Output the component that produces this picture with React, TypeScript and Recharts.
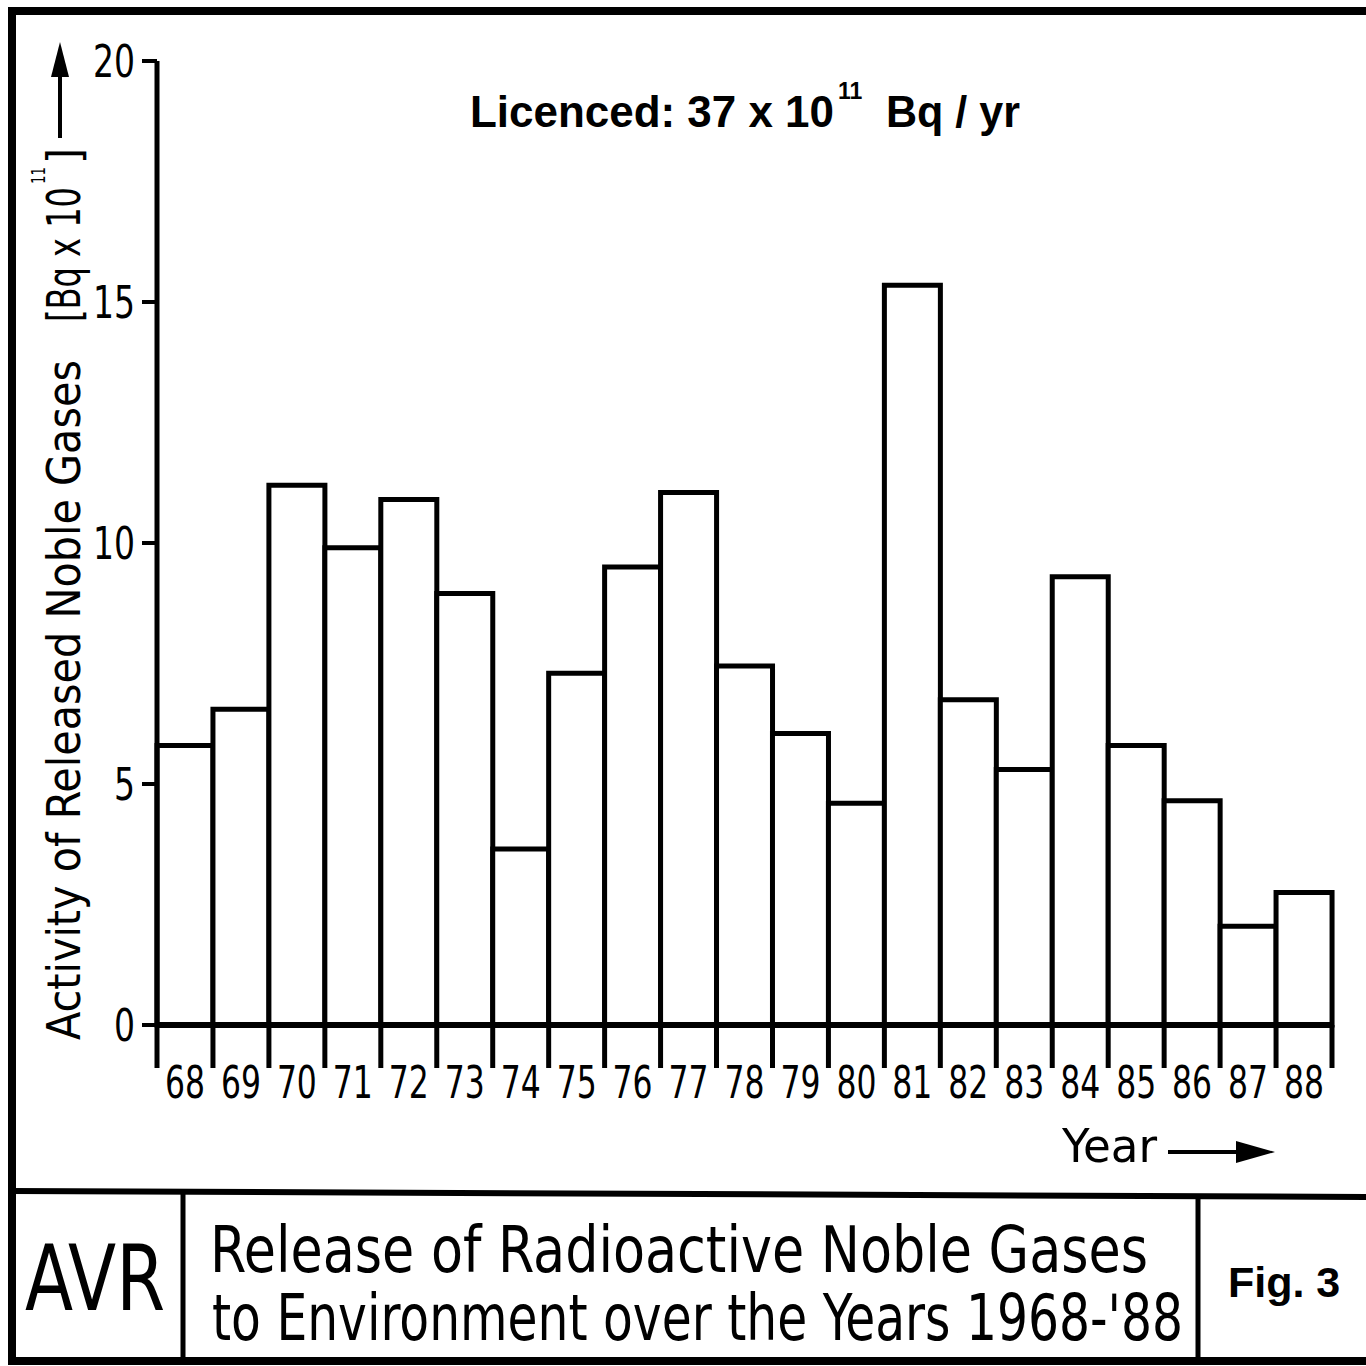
import React from 'react';
import { BarChart, Bar, XAxis, YAxis } from 'recharts';

// AVR noble gas releases, 1968-1988, in Bq x 10^11
const years = ['68', '69', '70', '71', '72', '73', '74', '75', '76', '77', '78', '79', '80', '81', '82', '83', '84', '85', '86', '87', '88'];
const activity = [5.8, 6.55, 11.2, 9.9, 10.9, 8.95, 3.65, 7.3, 9.5, 11.05, 7.45, 6.05, 4.6, 15.35, 6.75, 5.3, 9.3, 5.8, 4.65, 2.05, 2.75];
const yTicks = [0, 5, 10, 15, 20];

const data = years.map((year, i) => ({ year, activity: activity[i] }));

const NARROW = "'Liberation Sans Narrow', 'DejaVu Sans Condensed', sans-serif";
const ARIAL = "'Liberation Sans', Arial, sans-serif";

// boundary tick under each bar, label centred in the band
const YearTick = (props: any) => {
  const { x, y, payload, index } = props;
  const half = payload.offset ?? 0;
  return (
    <g>
      <line x1={x - half} x2={x - half} y1={y} y2={y + 43} stroke="#000" strokeWidth={5} />
      {index === years.length - 1 && (
        <line x1={x + half} x2={x + half} y1={y} y2={y + 43} stroke="#000" strokeWidth={5} />
      )}
      <text x={x} y={y + 73} textAnchor="middle" fontSize={45} fontFamily={NARROW} fill="#000"
        textLength={40} lengthAdjust="spacingAndGlyphs">
        {payload.value}
      </text>
    </g>
  );
};

const ValueTick = (props: any) => {
  const { x, y, payload } = props;
  const label = String(payload.value);
  return (
    <text x={x} y={y} dy="0.36em" textAnchor="end" fontSize={45} fontFamily={NARROW} fill="#000"
      textLength={label.length * 21} lengthAdjust="spacingAndGlyphs">
      {label}
    </text>
  );
};

const App: React.FC = () => {
  return (
    <div style={{ position: 'absolute', left: 0, top: 0, width: 1366, height: 1366, background: '#fff', overflow: 'hidden' }}>
      <div style={{ position: 'absolute', left: 0, top: 0 }}>
        <BarChart
          width={1366}
          height={1366}
          data={data}
          barCategoryGap={0}
          margin={{ top: 61, right: 34, left: 97, bottom: 261 }}
        >
          <YAxis
            domain={[0, 20]}
            ticks={yTicks}
            interval={0}
            width={60}
            axisLine={{ stroke: '#000', strokeWidth: 5 }}
            tickLine={{ stroke: '#000', strokeWidth: 4 }}
            tickSize={15}
            tickMargin={7}
            tick={<ValueTick />}
          />
          <XAxis
            dataKey="year"
            interval={0}
            height={80}
            tickSize={0}
            tickMargin={0}
            tickLine={false}
            axisLine={{ stroke: '#000', strokeWidth: 6 }}
            tick={<YearTick />}
          />
          <Bar dataKey="activity" fill="#fff" stroke="#000" strokeWidth={5} isAnimationActive={false} />
        </BarChart>
      </div>

      <svg width={1366} height={1366} style={{ position: 'absolute', left: 0, top: 0, pointerEvents: 'none' }}>
        {/* frame and title block */}
        <rect x={12} y={11} width={1400} height={1350} fill="none" stroke="#000" strokeWidth={8} />
        <line x1={12} y1={1191} x2={1366} y2={1197} stroke="#000" strokeWidth={6} />
        <line x1={183} y1={1192} x2={183} y2={1361} stroke="#000" strokeWidth={5} />
        <line x1={1198} y1={1196} x2={1198} y2={1361} stroke="#000" strokeWidth={5} />

        {/* y axis title */}
        <g fontFamily={NARROW} fill="#000">
          <text transform="translate(80,1040) rotate(-90)" fontSize={46} textLength={680} lengthAdjust="spacingAndGlyphs">
            Activity of Released Noble Gases
          </text>
          <text transform="translate(80,322) rotate(-90)" fontSize={46} textLength={135} lengthAdjust="spacingAndGlyphs">
            [Bq x 10
          </text>
          <text transform="translate(45,184) rotate(-90)" fontSize={20} textLength={17} lengthAdjust="spacingAndGlyphs">11</text>
          <text transform="translate(80,164) rotate(-90)" fontSize={46}>]</text>
        </g>
        <line x1={60} y1={138} x2={60} y2={72} stroke="#000" strokeWidth={4} />
        <polygon points="60,42 51,77 69,77" fill="#000" />

        {/* licence note */}
        <g fontFamily={ARIAL} fontWeight="bold" fill="#000">
          <text x={470} y={127} fontSize={44} textLength={364} lengthAdjust="spacingAndGlyphs">Licenced: 37 x 10</text>
          <text x={838} y={99} fontSize={23}>11</text>
          <text x={886} y={127} fontSize={44} textLength={134} lengthAdjust="spacingAndGlyphs">Bq / yr</text>
        </g>

        {/* x axis title */}
        <text x={1062} y={1162} fontSize={46} fontFamily={NARROW} fill="#000" textLength={95} lengthAdjust="spacingAndGlyphs">Year</text>
        <line x1={1168} y1={1152} x2={1240} y2={1152} stroke="#000" strokeWidth={4} />
        <polygon points="1275,1152 1236,1141 1236,1163" fill="#000" />

        {/* title block text */}
        <text x={25} y={1310} fontSize={90} fontFamily={NARROW} fill="#000" textLength={140} lengthAdjust="spacingAndGlyphs">AVR</text>
        <text x={210} y={1272} fontSize={64} fontFamily={NARROW} fill="#000" textLength={938} lengthAdjust="spacingAndGlyphs">
          Release of Radioactive Noble Gases
        </text>
        <text x={212} y={1340} fontSize={64} fontFamily={NARROW} fill="#000" textLength={971} lengthAdjust="spacingAndGlyphs">
          to Environment over the Years 1968-'88
        </text>
        <text x={1228} y={1297} fontSize={43} fontFamily={ARIAL} fontWeight="bold" fill="#000">
          Fig. 3
        </text>
      </svg>
    </div>
  );
};

export default App;
